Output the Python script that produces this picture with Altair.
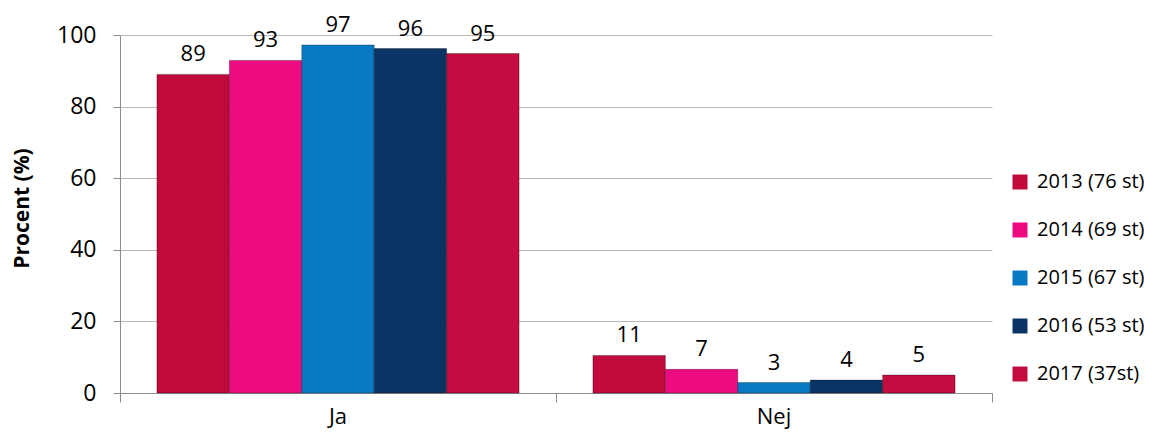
import altair as alt
import pandas as pd

categories = ["Ja", "Nej"]
series = ["2013 (76 st)", "2014 (69 st)", "2015 (67 st)", "2016 (53 st)", "2017 (37st)"]
ja_values = [89.0, 92.9, 97.2, 96.2, 94.8]
nej_values = [10.5, 6.6, 2.9, 3.6, 5.0]
colors = ["#C00A3C", "#EC0B80", "#0979C4", "#0B3363", "#C30C40"]
y_ticks = [0, 20, 40, 60, 80, 100]

rows = []
for cat, vals in zip(categories, [ja_values, nej_values]):
    for s, v in zip(series, vals):
        rows.append({"Svar": cat, "Serie": s, "Procent": v})
df = pd.DataFrame(rows)

FONT = "Open Sans"
GRAY = "#8c8c8c"

base = alt.Chart(df).encode(
    x=alt.X(
        "Svar:N",
        sort=categories,
        scale=alt.Scale(paddingInner=0, paddingOuter=0),
        axis=alt.Axis(
            title=None, labelAngle=0, bandPosition=1, tickExtra=True,
            ticks=True, tickSize=9, tickColor=GRAY, domainColor=GRAY,
            labelFontSize=22, labelFont=FONT, labelColor="#000000",
            labelPadding=4, grid=False,
        ),
    ),
    xOffset=alt.XOffset(
        "Serie:N", sort=series,
        scale=alt.Scale(paddingInner=0, paddingOuter=0.51),
    ),
    y=alt.Y(
        "Procent:Q",
        scale=alt.Scale(domain=[0, 100]),
        axis=alt.Axis(
            values=y_ticks, title="Procent (%)", tickSize=7, tickColor=GRAY,
            domainColor=GRAY, gridColor="#b8b8b8", labelFontSize=23,
            labelFont=FONT, labelColor="#000000", labelPadding=17,
            titleFont=FONT, titleFontSize=21, titleFontWeight="bold",
            titleColor="#000000", titleAngle=270, titleX=-98, titleY=173,
            titleAlign="center", titleBaseline="middle",
        ),
    ),
)

bars = base.mark_bar(stroke="#000000", strokeOpacity=0.3, strokeWidth=1).encode(
    color=alt.Color(
        "Serie:N",
        sort=series,
        scale=alt.Scale(domain=series, range=colors),
        legend=alt.Legend(
            title=None, orient="none", legendX=890, legendY=137,
            symbolType="square", symbolSize=225, symbolStrokeWidth=0,
            labelFontSize=20, labelFont=FONT, labelColor="#000000",
            rowPadding=28, labelOffset=7, labelLimit=300,
        ),
    )
)

labels = base.mark_text(
    dy=-20, baseline="middle", fontSize=22, font=FONT, color="#000000"
).encode(text=alt.Text("Procent:Q", format=".0f"))

chart = (
    alt.layer(bars, labels)
    .properties(
        width=872,
        height=358,
        padding={"left": 112, "top": 27, "right": 163, "bottom": 38},
        autosize=alt.AutoSizeParams(type="none"),
    )
    .configure_view(stroke=None)
)

chart.save("out.html", embed_options={"renderer": "svg", "actions": False})
